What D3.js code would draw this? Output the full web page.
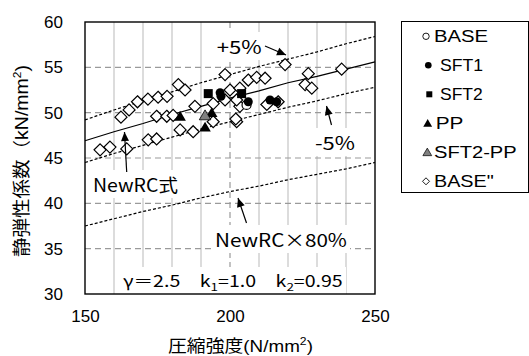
<!DOCTYPE html>
<html><head><meta charset="utf-8">
<script src="https://cdn.jsdelivr.net/npm/d3@7"></script>
<style>body{margin:0;background:#fff} svg{display:block}</style>
</head><body><svg id="c" width="529" height="356"></svg>
<script>
// ---- data ----
const xTicks = [150, 200, 250];
const yTicks = [30, 35, 40, 45, 50, 55, 60];
const xMinor = [160, 170, 180, 190, 210, 220, 230, 240];
const xMajor = [200];
const yGrid = [35, 40, 45, 50, 55];

const fcGrid = [150, 160, 170, 180, 190, 200, 210, 220, 230, 240, 250];
const newRC  = [46.9, 47.9, 48.8, 49.8, 50.7, 51.6, 52.4, 53.3, 54.0, 54.8, 55.6];
const plus5  = [49.2, 50.3, 51.3, 52.3, 53.3, 54.2, 55.1, 55.9, 56.7, 57.6, 58.4];
const minus5 = [44.5, 45.5, 46.4, 47.3, 48.2, 49.0, 49.8, 50.6, 51.3, 52.1, 52.8];
const rc80   = [37.5, 38.3, 39.1, 39.8, 40.6, 41.3, 41.9, 42.6, 43.2, 43.8, 44.5];

const baseDD = [[155.2,45.9],[158.6,46.2],[164.4,46.0],[162.4,49.5],[165.2,50.3],[168.1,51.2],
  [171.7,51.5],[175.2,51.7],[178.3,51.8],[182.2,53.1],[184.5,52.5],[174.7,49.6],[178.2,49.6],
  [180.4,49.7],[171.8,47.0],[174.7,47.1],[182.8,48.1],[187.3,47.9],[187.9,50.7],[198.3,54.2],
  [194.2,49.0],[202.3,49.0],[202.0,49.3],[200.0,52.5],[203.4,52.7],[206.3,53.6],[209.2,53.9],
  [212.1,53.8],[203.4,50.7],[202.3,51.4],[212.7,50.9],[216.6,51.2],[219.0,55.3],[227.0,54.3],
  [225.9,53.1],[228.2,52.7],[238.5,54.8],[198.3,51.4],[194.2,51.0]];
const base   = [[205.7,50.85]];
const sft1   = [[196.6,52.2],[196.9,51.8],[206.3,51.2],[213.8,51.4],[216.1,51.2]];
const sft2   = [[192.5,52.1],[204.0,52.1]];
const pp     = [[182.8,49.6],[193.7,50.0],[191.4,48.4]];
const sft2pp = [[191.4,49.7]];

const legendNames = ["BASE", "SFT1", "SFT2", "PP", "SFT2-PP", "BASE\""];

// ---- layout ----
const svg = d3.select("#c");
const x = d3.scaleLinear().domain([150, 250]).range([85, 375]);
const y = d3.scaleLinear().domain([30, 60]).range([294, 22]);
const LAT = "'Liberation Sans', Arial, sans-serif";
const JP = "'Noto Sans CJK JP', sans-serif";

// grid
const g = svg.append("g");
g.selectAll(".vm").data(xMinor).join("line")
  .attr("x1", d => x(d)).attr("x2", d => x(d)).attr("y1", y(60)).attr("y2", y(30))
  .attr("stroke", "#d0d0d0").attr("stroke-width", 1.5);
g.selectAll(".vM").data(xMajor).join("line")
  .attr("x1", d => x(d)).attr("x2", d => x(d)).attr("y1", y(60)).attr("y2", y(30))
  .attr("stroke", "#9a9a9a").attr("stroke-width", 1.2).attr("stroke-dasharray", "6,4");
g.selectAll(".hg").data(yGrid).join("line")
  .attr("x1", x(150)).attr("x2", x(250)).attr("y1", d => y(d)).attr("y2", d => y(d))
  .attr("stroke", "#9a9a9a").attr("stroke-width", 1.2).attr("stroke-dasharray", "6,4");

const boxLayer = svg.append("g");
const lineLayer = svg.append("g");
const ptLayer = svg.append("g");
const txtLayer = svg.append("g");

// curves
const line = d3.line().x(d => x(d[0])).y(d => y(d[1]));
function curve(vals, dash) {
  lineLayer.append("path").datum(fcGrid.map((f, i) => [f, vals[i]]))
    .attr("d", line).attr("fill", "none").attr("stroke", "#000")
    .attr("stroke-width", 1.2).attr("stroke-dasharray", dash);
}
curve(newRC, null);
curve(plus5, "3,2");
curve(minus5, "3,2");
curve(rc80, "3,2");

// points
const diamond = s => `M0,${-s}L${s},0L0,${s}L${-s},0Z`;
const tri = s => `M0,${-s}L${s*1.05},${s*0.8}L${-s*1.05},${s*0.8}Z`;
ptLayer.selectAll(".dd").data(baseDD).join("path")
  .attr("transform", d => `translate(${x(d[0])},${y(d[1])})`)
  .attr("d", diamond(6)).attr("fill", "#fff").attr("stroke", "#000").attr("stroke-width", 1.2);
ptLayer.selectAll(".bs").data(base).join("circle")
  .attr("cx", d => x(d[0])).attr("cy", d => y(d[1])).attr("r", 4.5)
  .attr("fill", "#fff").attr("stroke", "#000").attr("stroke-width", 1.2);
ptLayer.selectAll(".s1").data(sft1).join("circle")
  .attr("cx", d => x(d[0])).attr("cy", d => y(d[1])).attr("r", 4.5).attr("fill", "#000");
ptLayer.selectAll(".s2").data(sft2).join("rect")
  .attr("x", d => x(d[0]) - 4.5).attr("y", d => y(d[1]) - 4.5)
  .attr("width", 9).attr("height", 9).attr("fill", "#000");
ptLayer.selectAll(".pp").data(pp).join("path")
  .attr("transform", d => `translate(${x(d[0])},${y(d[1])})`).attr("d", tri(5.5)).attr("fill", "#000");
ptLayer.selectAll(".sp").data(sft2pp).join("path")
  .attr("transform", d => `translate(${x(d[0])},${y(d[1])})`).attr("d", tri(5.5))
  .attr("fill", "#808080").attr("stroke", "#000").attr("stroke-width", 0.8);

// text fitted to a target width (horizontal scale only)
function fitted(parent, build, xl, yb, size, fam, targetW, box) {
  const t = parent.append("text").attr("x", 0).attr("y", 0)
    .attr("font-family", fam).attr("font-size", size).attr("fill", "#000");
  build(t);
  const b = t.node().getBBox();
  const s = targetW / b.width;
  t.attr("transform", `translate(${xl - b.x * s},${yb}) scale(${s},1)`);
  if (box) {
    boxLayer.append("rect").attr("x", xl - 3).attr("y", yb + b.y - 1)
      .attr("width", targetW + 6).attr("height", b.height + 2).attr("fill", "#fff");
  }
  return t;
}
fitted(txtLayer, t => t.text("+5%"), 216.7, 54, 18, JP, 45, true);
fitted(txtLayer, t => t.text("-5%"), 315, 150, 18, JP, 40, true);
fitted(txtLayer, t => t.text("NewRC式"), 93, 192, 18, JP, 85, true);
fitted(txtLayer, t => t.text("NewRC×80%"), 215, 247, 18, JP, 132, true);
fitted(txtLayer, t => {
  t.append("tspan").text("γ＝2.5　k");
  t.append("tspan").text("1").attr("font-size", 11).attr("dy", 4);
  t.append("tspan").text("=1.0　k").attr("dy", -4);
  t.append("tspan").text("2").attr("font-size", 11).attr("dy", 4);
  t.append("tspan").text("=0.95").attr("dy", -4);
}, 123, 287, 16, JP, 220, true);

// arrows
function arrow(x1, y1, x2, y2) {
  txtLayer.append("line").attr("x1", x1).attr("y1", y1).attr("x2", x2).attr("y2", y2)
    .attr("stroke", "#000").attr("stroke-width", 1.2);
  const a = Math.atan2(y2 - y1, x2 - x1), L = 9, W = 4;
  const bx = x2 - L * Math.cos(a), by = y2 - L * Math.sin(a);
  txtLayer.append("path").attr("d",
    `M${x2},${y2}L${bx + W * Math.sin(a)},${by - W * Math.cos(a)}L${bx - W * Math.sin(a)},${by + W * Math.cos(a)}Z`)
    .attr("fill", "#000");
}
arrow(265, 46, 286, 55);
arrow(331.5, 125, 326.5, 106);
arrow(126.7, 172, 124.5, 132);
arrow(246.5, 223, 238, 198);

// frame
svg.append("rect").attr("x", 85).attr("y", 22).attr("width", 290).attr("height", 272)
  .attr("fill", "none").attr("stroke", "#000").attr("stroke-width", 1.4);

// axes
const xa = svg.append("g").attr("transform", "translate(0,294)")
  .call(d3.axisBottom(x).tickValues(xTicks).tickSize(0).tickPadding(16).tickFormat(d3.format("d")));
const ya = svg.append("g").attr("transform", "translate(85,0)")
  .call(d3.axisLeft(y).tickValues(yTicks).tickSize(0).tickPadding(22).tickFormat(d3.format("d")));
[xa, ya].forEach(a => {
  a.select(".domain").remove();
  a.selectAll("text").attr("font-family", LAT).attr("font-size", 17).attr("fill", "#000");
});

// axis titles
fitted(svg, t => {
  t.append("tspan").text("圧縮強度");
  t.append("tspan").text("(N/mm").attr("font-family", LAT);
  t.append("tspan").text("2").attr("font-family", LAT).attr("font-size", 11).attr("dy", -7);
  t.append("tspan").text(")").attr("font-family", LAT).attr("dy", 7);
}, 168, 352, 17, JP, 145, false);

const yt = svg.append("text").attr("text-anchor", "middle").attr("font-size", 18).attr("font-family", JP);
yt.append("tspan").text("静弾性係数（");
yt.append("tspan").text("kN/mm").attr("font-family", LAT);
yt.append("tspan").text("2").attr("font-family", LAT).attr("font-size", 11).attr("dy", -7);
yt.append("tspan").text(")").attr("font-family", LAT).attr("dy", 7);
const ytw = yt.node().getBBox().width;
yt.attr("transform", `translate(28,161) rotate(-90) scale(${192 / ytw},1)`);

// legend
svg.append("rect").attr("x", 401.5).attr("y", 21.5).attr("width", 127).attr("height", 171)
  .attr("fill", "#fff").attr("stroke", "#000").attr("stroke-width", 1);
const lc = [35.8, 64.8, 93.8, 122.8, 151.8, 180.8];
const lsx = [426, 428.3, 429.3, 427.7, 427.3, 426];
const ltx = [434, 440, 440, 435.7, 434, 434];
const ltw = [54.3, 43, 42.7, 27.7, 82.7, 60];
const lg = svg.append("g");
legendNames.forEach((n, i) => {
  const gy = lc[i] + 0.5;
  const e = lg.append("g").attr("transform", `translate(${lsx[i]},${gy})`);
  if (i === 0) e.append("circle").attr("r", 3.2).attr("fill", "#fff").attr("stroke", "#000").attr("stroke-width", 0.9);
  if (i === 1) e.append("circle").attr("r", 3.3).attr("fill", "#000");
  if (i === 2) e.append("rect").attr("x", -3).attr("y", -3).attr("width", 6).attr("height", 6).attr("fill", "#000");
  if (i === 3) e.append("path").attr("d", tri(4.2)).attr("fill", "#000");
  if (i === 4) e.append("path").attr("d", tri(4.2)).attr("fill", "#808080").attr("stroke", "#000").attr("stroke-width", 0.7);
  if (i === 5) e.append("path").attr("d", diamond(3.5)).attr("fill", "#fff").attr("stroke", "#000").attr("stroke-width", 0.9);
  fitted(lg, t => t.text(n), ltx[i], lc[i] + 5.9, 16.3, LAT, ltw[i], false);
});
</script></body></html>
